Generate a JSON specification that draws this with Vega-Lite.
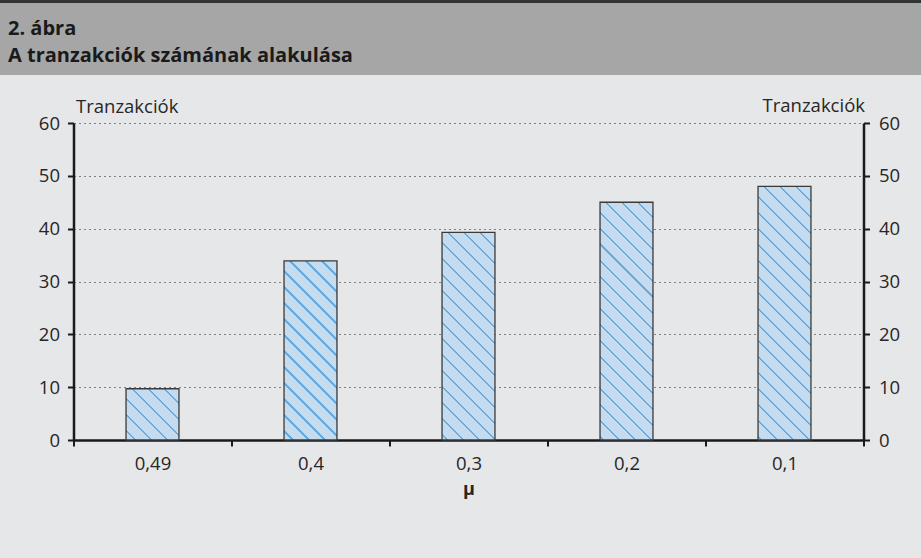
{
  "$schema": "https://vega.github.io/schema/vega-lite/v6.json",
  "autosize": {"type": "none"},
  "padding": {"left": 0, "top": 0, "right": 921, "bottom": 558},
  "background": "#e6e7e8",
  "config": {"view": {"stroke": null}, "font": "Open Sans"},
  "bounds": "flush",
  "center": true,
  "spacing": 48,
  "vconcat": [
    {
      "width": 937,
      "height": 75,
      "view": {"fill": "#a6a6a6", "stroke": "#333333", "strokeWidth": 6, "strokeDash": [937, 100000]},
      "title": {
        "text": ["2. ábra", "A tranzakciók számának alakulása"],
        "anchor": "start",
        "frame": "group",
        "orient": "top",
        "offset": -82,
        "dx": 8,
        "baseline": "alphabetic",
        "font": "Open Sans",
        "fontSize": 20,
        "fontWeight": "bold",
        "lineHeight": 27,
        "color": "#1a1a1a"
      },
      "data": {"values": []},
      "mark": "point"
    },
    {
      "width": 790,
      "height": 317,
      "data": {
        "values": [
          {"mu": "0,49", "tx": 9.7},
          {"mu": "0,4", "tx": 33.9},
          {"mu": "0,3", "tx": 39.3},
          {"mu": "0,2", "tx": 45.0},
          {"mu": "0,1", "tx": 48.0}
        ]
      },
      "layer": [
        {
          "mark": {"type": "bar", "width": {"band": 0.335}, "stroke": "#3a3a3a", "strokeWidth": 1.3},
          "encoding": {
            "x": {
              "field": "mu", "type": "nominal", "sort": null,
              "scale": {"paddingInner": 0, "paddingOuter": 0},
              "axis": {
                "orient": "bottom", "domainColor": "#1a1a1a", "domainWidth": 2.5,
                "tickBand": "extent", "tickColor": "#1a1a1a", "tickSize": 6, "tickWidth": 2,
                "labelAngle": 0, "labelFont": "Open Sans", "labelFontSize": 18.5, "labelColor": "#262626", "labelPadding": 8,
                "title": "μ", "titleFont": "Open Sans", "titleFontSize": 18, "titleFontWeight": "bold", "titleColor": "#262626", "titlePadding": 8
              }
            },
            "y": {
              "field": "tx", "type": "quantitative",
              "scale": {"domain": [0, 60]},
              "axis": {
                "orient": "left", "values": [0, 10, 20, 30, 40, 50, 60],
                "domainColor": "#1a1a1a", "domainWidth": 2.5,
                "tickColor": "#1a1a1a", "tickSize": 6, "tickWidth": 2,
                "labelFont": "Open Sans", "labelFontSize": 18.5, "labelColor": "#262626", "labelPadding": 8,
                "grid": true, "gridColor": "#808080", "gridDash": [2, 3], "gridWidth": 1,
                "title": "Tranzakciók", "titleAngle": 0, "titleAlign": "left", "titleBaseline": "alphabetic",
                "titleX": 2, "titleY": -11, "titleFont": "Open Sans", "titleFontSize": 18.5, "titleFontWeight": "normal", "titleColor": "#262626"
              }
            },
            "fill": {
              "condition": [
                {"test": "datum.mu === '0,49'", "value": {"gradient": "linear", "x1": 0, "y1": 1, "x2": 1.0159, "y2": 0.01636, "stops": [
                  {"offset": 0, "color": "#c5dcf0"},
                  {"offset": 0.0773, "color": "#c5dcf0"}, {"offset": 0.0773, "color": "#6aaadc"}, {"offset": 0.1003, "color": "#6aaadc"}, {"offset": 0.1003, "color": "#c5dcf0"},
                  {"offset": 0.2309, "color": "#c5dcf0"}, {"offset": 0.2309, "color": "#6aaadc"}, {"offset": 0.2539, "color": "#6aaadc"}, {"offset": 0.2539, "color": "#c5dcf0"},
                  {"offset": 0.3845, "color": "#c5dcf0"}, {"offset": 0.3845, "color": "#6aaadc"}, {"offset": 0.4075, "color": "#6aaadc"}, {"offset": 0.4075, "color": "#c5dcf0"},
                  {"offset": 0.5380, "color": "#c5dcf0"}, {"offset": 0.5380, "color": "#6aaadc"}, {"offset": 0.5610, "color": "#6aaadc"}, {"offset": 0.5610, "color": "#c5dcf0"},
                  {"offset": 0.6916, "color": "#c5dcf0"}, {"offset": 0.6916, "color": "#6aaadc"}, {"offset": 0.7146, "color": "#6aaadc"}, {"offset": 0.7146, "color": "#c5dcf0"},
                  {"offset": 0.8452, "color": "#c5dcf0"}, {"offset": 0.8452, "color": "#6aaadc"}, {"offset": 0.8682, "color": "#6aaadc"}, {"offset": 0.8682, "color": "#c5dcf0"},
                  {"offset": 1, "color": "#c5dcf0"}
                ]}},
                {"test": "datum.mu === '0,4'", "value": {"gradient": "linear", "x1": 0, "y1": 1, "x2": 0.35212, "y2": -0.19146, "stops": [
                  {"offset": 0, "color": "#c5dcf0"},
                  {"offset": 0.0341, "color": "#c5dcf0"}, {"offset": 0.0341, "color": "#6aaadc"}, {"offset": 0.0444, "color": "#6aaadc"}, {"offset": 0.0444, "color": "#c5dcf0"},
                  {"offset": 0.1030, "color": "#c5dcf0"}, {"offset": 0.1030, "color": "#6aaadc"}, {"offset": 0.1134, "color": "#6aaadc"}, {"offset": 0.1134, "color": "#c5dcf0"},
                  {"offset": 0.1720, "color": "#c5dcf0"}, {"offset": 0.1720, "color": "#6aaadc"}, {"offset": 0.1823, "color": "#6aaadc"}, {"offset": 0.1823, "color": "#c5dcf0"},
                  {"offset": 0.2409, "color": "#c5dcf0"}, {"offset": 0.2409, "color": "#6aaadc"}, {"offset": 0.2513, "color": "#6aaadc"}, {"offset": 0.2513, "color": "#c5dcf0"},
                  {"offset": 0.3099, "color": "#c5dcf0"}, {"offset": 0.3099, "color": "#6aaadc"}, {"offset": 0.3202, "color": "#6aaadc"}, {"offset": 0.3202, "color": "#c5dcf0"},
                  {"offset": 0.3788, "color": "#c5dcf0"}, {"offset": 0.3788, "color": "#6aaadc"}, {"offset": 0.3892, "color": "#6aaadc"}, {"offset": 0.3892, "color": "#c5dcf0"},
                  {"offset": 0.4478, "color": "#c5dcf0"}, {"offset": 0.4478, "color": "#6aaadc"}, {"offset": 0.4581, "color": "#6aaadc"}, {"offset": 0.4581, "color": "#c5dcf0"},
                  {"offset": 0.5167, "color": "#c5dcf0"}, {"offset": 0.5167, "color": "#6aaadc"}, {"offset": 0.5271, "color": "#6aaadc"}, {"offset": 0.5271, "color": "#c5dcf0"},
                  {"offset": 0.5857, "color": "#c5dcf0"}, {"offset": 0.5857, "color": "#6aaadc"}, {"offset": 0.5960, "color": "#6aaadc"}, {"offset": 0.5960, "color": "#c5dcf0"},
                  {"offset": 0.6547, "color": "#c5dcf0"}, {"offset": 0.6547, "color": "#6aaadc"}, {"offset": 0.6650, "color": "#6aaadc"}, {"offset": 0.6650, "color": "#c5dcf0"},
                  {"offset": 0.7236, "color": "#c5dcf0"}, {"offset": 0.7236, "color": "#6aaadc"}, {"offset": 0.7340, "color": "#6aaadc"}, {"offset": 0.7340, "color": "#c5dcf0"},
                  {"offset": 0.7926, "color": "#c5dcf0"}, {"offset": 0.7926, "color": "#6aaadc"}, {"offset": 0.8029, "color": "#6aaadc"}, {"offset": 0.8029, "color": "#c5dcf0"},
                  {"offset": 0.8615, "color": "#c5dcf0"}, {"offset": 0.8615, "color": "#6aaadc"}, {"offset": 0.8719, "color": "#6aaadc"}, {"offset": 0.8719, "color": "#c5dcf0"},
                  {"offset": 0.9305, "color": "#c5dcf0"}, {"offset": 0.9305, "color": "#6aaadc"}, {"offset": 0.9408, "color": "#6aaadc"}, {"offset": 0.9408, "color": "#c5dcf0"},
                  {"offset": 1, "color": "#c5dcf0"}
                ]}},
                {"test": "datum.mu === '0,3'", "value": {"gradient": "linear", "x1": 0, "y1": 1, "x2": 0.30039, "y2": -0.17834, "stops": [
                  {"offset": 0, "color": "#c5dcf0"},
                  {"offset": 0.0170, "color": "#c5dcf0"}, {"offset": 0.0170, "color": "#6aaadc"}, {"offset": 0.0262, "color": "#6aaadc"}, {"offset": 0.0262, "color": "#c5dcf0"},
                  {"offset": 0.0784, "color": "#c5dcf0"}, {"offset": 0.0784, "color": "#6aaadc"}, {"offset": 0.0876, "color": "#6aaadc"}, {"offset": 0.0876, "color": "#c5dcf0"},
                  {"offset": 0.1398, "color": "#c5dcf0"}, {"offset": 0.1398, "color": "#6aaadc"}, {"offset": 0.1490, "color": "#6aaadc"}, {"offset": 0.1490, "color": "#c5dcf0"},
                  {"offset": 0.2012, "color": "#c5dcf0"}, {"offset": 0.2012, "color": "#6aaadc"}, {"offset": 0.2104, "color": "#6aaadc"}, {"offset": 0.2104, "color": "#c5dcf0"},
                  {"offset": 0.2626, "color": "#c5dcf0"}, {"offset": 0.2626, "color": "#6aaadc"}, {"offset": 0.2718, "color": "#6aaadc"}, {"offset": 0.2718, "color": "#c5dcf0"},
                  {"offset": 0.3240, "color": "#c5dcf0"}, {"offset": 0.3240, "color": "#6aaadc"}, {"offset": 0.3332, "color": "#6aaadc"}, {"offset": 0.3332, "color": "#c5dcf0"},
                  {"offset": 0.3854, "color": "#c5dcf0"}, {"offset": 0.3854, "color": "#6aaadc"}, {"offset": 0.3947, "color": "#6aaadc"}, {"offset": 0.3947, "color": "#c5dcf0"},
                  {"offset": 0.4469, "color": "#c5dcf0"}, {"offset": 0.4469, "color": "#6aaadc"}, {"offset": 0.4561, "color": "#6aaadc"}, {"offset": 0.4561, "color": "#c5dcf0"},
                  {"offset": 0.5083, "color": "#c5dcf0"}, {"offset": 0.5083, "color": "#6aaadc"}, {"offset": 0.5175, "color": "#6aaadc"}, {"offset": 0.5175, "color": "#c5dcf0"},
                  {"offset": 0.5697, "color": "#c5dcf0"}, {"offset": 0.5697, "color": "#6aaadc"}, {"offset": 0.5789, "color": "#6aaadc"}, {"offset": 0.5789, "color": "#c5dcf0"},
                  {"offset": 0.6311, "color": "#c5dcf0"}, {"offset": 0.6311, "color": "#6aaadc"}, {"offset": 0.6403, "color": "#6aaadc"}, {"offset": 0.6403, "color": "#c5dcf0"},
                  {"offset": 0.6925, "color": "#c5dcf0"}, {"offset": 0.6925, "color": "#6aaadc"}, {"offset": 0.7017, "color": "#6aaadc"}, {"offset": 0.7017, "color": "#c5dcf0"},
                  {"offset": 0.7539, "color": "#c5dcf0"}, {"offset": 0.7539, "color": "#6aaadc"}, {"offset": 0.7631, "color": "#6aaadc"}, {"offset": 0.7631, "color": "#c5dcf0"},
                  {"offset": 0.8153, "color": "#c5dcf0"}, {"offset": 0.8153, "color": "#6aaadc"}, {"offset": 0.8245, "color": "#6aaadc"}, {"offset": 0.8245, "color": "#c5dcf0"},
                  {"offset": 0.8767, "color": "#c5dcf0"}, {"offset": 0.8767, "color": "#6aaadc"}, {"offset": 0.8859, "color": "#6aaadc"}, {"offset": 0.8859, "color": "#c5dcf0"},
                  {"offset": 0.9381, "color": "#c5dcf0"}, {"offset": 0.9381, "color": "#6aaadc"}, {"offset": 0.9473, "color": "#6aaadc"}, {"offset": 0.9473, "color": "#c5dcf0"},
                  {"offset": 1, "color": "#c5dcf0"}
                ]}},
                {"test": "datum.mu === '0,2'", "value": {"gradient": "linear", "x1": 0, "y1": 1, "x2": 0.25934, "y2": -0.16490, "stops": [
                  {"offset": 0, "color": "#c5dcf0"},
                  {"offset": 0.0088, "color": "#c5dcf0"}, {"offset": 0.0088, "color": "#6aaadc"}, {"offset": 0.0170, "color": "#6aaadc"}, {"offset": 0.0170, "color": "#c5dcf0"},
                  {"offset": 0.0638, "color": "#c5dcf0"}, {"offset": 0.0638, "color": "#6aaadc"}, {"offset": 0.0721, "color": "#6aaadc"}, {"offset": 0.0721, "color": "#c5dcf0"},
                  {"offset": 0.1189, "color": "#c5dcf0"}, {"offset": 0.1189, "color": "#6aaadc"}, {"offset": 0.1271, "color": "#6aaadc"}, {"offset": 0.1271, "color": "#c5dcf0"},
                  {"offset": 0.1739, "color": "#c5dcf0"}, {"offset": 0.1739, "color": "#6aaadc"}, {"offset": 0.1822, "color": "#6aaadc"}, {"offset": 0.1822, "color": "#c5dcf0"},
                  {"offset": 0.2289, "color": "#c5dcf0"}, {"offset": 0.2289, "color": "#6aaadc"}, {"offset": 0.2372, "color": "#6aaadc"}, {"offset": 0.2372, "color": "#c5dcf0"},
                  {"offset": 0.2840, "color": "#c5dcf0"}, {"offset": 0.2840, "color": "#6aaadc"}, {"offset": 0.2922, "color": "#6aaadc"}, {"offset": 0.2922, "color": "#c5dcf0"},
                  {"offset": 0.3390, "color": "#c5dcf0"}, {"offset": 0.3390, "color": "#6aaadc"}, {"offset": 0.3473, "color": "#6aaadc"}, {"offset": 0.3473, "color": "#c5dcf0"},
                  {"offset": 0.3941, "color": "#c5dcf0"}, {"offset": 0.3941, "color": "#6aaadc"}, {"offset": 0.4023, "color": "#6aaadc"}, {"offset": 0.4023, "color": "#c5dcf0"},
                  {"offset": 0.4491, "color": "#c5dcf0"}, {"offset": 0.4491, "color": "#6aaadc"}, {"offset": 0.4574, "color": "#6aaadc"}, {"offset": 0.4574, "color": "#c5dcf0"},
                  {"offset": 0.5042, "color": "#c5dcf0"}, {"offset": 0.5042, "color": "#6aaadc"}, {"offset": 0.5124, "color": "#6aaadc"}, {"offset": 0.5124, "color": "#c5dcf0"},
                  {"offset": 0.5592, "color": "#c5dcf0"}, {"offset": 0.5592, "color": "#6aaadc"}, {"offset": 0.5675, "color": "#6aaadc"}, {"offset": 0.5675, "color": "#c5dcf0"},
                  {"offset": 0.6143, "color": "#c5dcf0"}, {"offset": 0.6143, "color": "#6aaadc"}, {"offset": 0.6225, "color": "#6aaadc"}, {"offset": 0.6225, "color": "#c5dcf0"},
                  {"offset": 0.6693, "color": "#c5dcf0"}, {"offset": 0.6693, "color": "#6aaadc"}, {"offset": 0.6776, "color": "#6aaadc"}, {"offset": 0.6776, "color": "#c5dcf0"},
                  {"offset": 0.7243, "color": "#c5dcf0"}, {"offset": 0.7243, "color": "#6aaadc"}, {"offset": 0.7326, "color": "#6aaadc"}, {"offset": 0.7326, "color": "#c5dcf0"},
                  {"offset": 0.7794, "color": "#c5dcf0"}, {"offset": 0.7794, "color": "#6aaadc"}, {"offset": 0.7876, "color": "#6aaadc"}, {"offset": 0.7876, "color": "#c5dcf0"},
                  {"offset": 0.8344, "color": "#c5dcf0"}, {"offset": 0.8344, "color": "#6aaadc"}, {"offset": 0.8427, "color": "#6aaadc"}, {"offset": 0.8427, "color": "#c5dcf0"},
                  {"offset": 0.8895, "color": "#c5dcf0"}, {"offset": 0.8895, "color": "#6aaadc"}, {"offset": 0.8977, "color": "#6aaadc"}, {"offset": 0.8977, "color": "#c5dcf0"},
                  {"offset": 0.9445, "color": "#c5dcf0"}, {"offset": 0.9445, "color": "#6aaadc"}, {"offset": 0.9528, "color": "#6aaadc"}, {"offset": 0.9528, "color": "#c5dcf0"},
                  {"offset": 1, "color": "#c5dcf0"}
                ]}},
                {"test": "datum.mu === '0,1'", "value": {"gradient": "linear", "x1": 0, "y1": 1, "x2": 0.24175, "y2": -0.15827, "stops": [
                  {"offset": 0, "color": "#c5dcf0"},
                  {"offset": 0.0078, "color": "#c5dcf0"}, {"offset": 0.0078, "color": "#6aaadc"}, {"offset": 0.0157, "color": "#6aaadc"}, {"offset": 0.0157, "color": "#c5dcf0"},
                  {"offset": 0.0600, "color": "#c5dcf0"}, {"offset": 0.0600, "color": "#6aaadc"}, {"offset": 0.0679, "color": "#6aaadc"}, {"offset": 0.0679, "color": "#c5dcf0"},
                  {"offset": 0.1122, "color": "#c5dcf0"}, {"offset": 0.1122, "color": "#6aaadc"}, {"offset": 0.1201, "color": "#6aaadc"}, {"offset": 0.1201, "color": "#c5dcf0"},
                  {"offset": 0.1644, "color": "#c5dcf0"}, {"offset": 0.1644, "color": "#6aaadc"}, {"offset": 0.1723, "color": "#6aaadc"}, {"offset": 0.1723, "color": "#c5dcf0"},
                  {"offset": 0.2166, "color": "#c5dcf0"}, {"offset": 0.2166, "color": "#6aaadc"}, {"offset": 0.2245, "color": "#6aaadc"}, {"offset": 0.2245, "color": "#c5dcf0"},
                  {"offset": 0.2688, "color": "#c5dcf0"}, {"offset": 0.2688, "color": "#6aaadc"}, {"offset": 0.2766, "color": "#6aaadc"}, {"offset": 0.2766, "color": "#c5dcf0"},
                  {"offset": 0.3210, "color": "#c5dcf0"}, {"offset": 0.3210, "color": "#6aaadc"}, {"offset": 0.3288, "color": "#6aaadc"}, {"offset": 0.3288, "color": "#c5dcf0"},
                  {"offset": 0.3732, "color": "#c5dcf0"}, {"offset": 0.3732, "color": "#6aaadc"}, {"offset": 0.3810, "color": "#6aaadc"}, {"offset": 0.3810, "color": "#c5dcf0"},
                  {"offset": 0.4254, "color": "#c5dcf0"}, {"offset": 0.4254, "color": "#6aaadc"}, {"offset": 0.4332, "color": "#6aaadc"}, {"offset": 0.4332, "color": "#c5dcf0"},
                  {"offset": 0.4776, "color": "#c5dcf0"}, {"offset": 0.4776, "color": "#6aaadc"}, {"offset": 0.4854, "color": "#6aaadc"}, {"offset": 0.4854, "color": "#c5dcf0"},
                  {"offset": 0.5298, "color": "#c5dcf0"}, {"offset": 0.5298, "color": "#6aaadc"}, {"offset": 0.5376, "color": "#6aaadc"}, {"offset": 0.5376, "color": "#c5dcf0"},
                  {"offset": 0.5820, "color": "#c5dcf0"}, {"offset": 0.5820, "color": "#6aaadc"}, {"offset": 0.5898, "color": "#6aaadc"}, {"offset": 0.5898, "color": "#c5dcf0"},
                  {"offset": 0.6342, "color": "#c5dcf0"}, {"offset": 0.6342, "color": "#6aaadc"}, {"offset": 0.6420, "color": "#6aaadc"}, {"offset": 0.6420, "color": "#c5dcf0"},
                  {"offset": 0.6864, "color": "#c5dcf0"}, {"offset": 0.6864, "color": "#6aaadc"}, {"offset": 0.6942, "color": "#6aaadc"}, {"offset": 0.6942, "color": "#c5dcf0"},
                  {"offset": 0.7386, "color": "#c5dcf0"}, {"offset": 0.7386, "color": "#6aaadc"}, {"offset": 0.7464, "color": "#6aaadc"}, {"offset": 0.7464, "color": "#c5dcf0"},
                  {"offset": 0.7908, "color": "#c5dcf0"}, {"offset": 0.7908, "color": "#6aaadc"}, {"offset": 0.7986, "color": "#6aaadc"}, {"offset": 0.7986, "color": "#c5dcf0"},
                  {"offset": 0.8430, "color": "#c5dcf0"}, {"offset": 0.8430, "color": "#6aaadc"}, {"offset": 0.8508, "color": "#6aaadc"}, {"offset": 0.8508, "color": "#c5dcf0"},
                  {"offset": 0.8952, "color": "#c5dcf0"}, {"offset": 0.8952, "color": "#6aaadc"}, {"offset": 0.9030, "color": "#6aaadc"}, {"offset": 0.9030, "color": "#c5dcf0"},
                  {"offset": 0.9474, "color": "#c5dcf0"}, {"offset": 0.9474, "color": "#6aaadc"}, {"offset": 0.9552, "color": "#6aaadc"}, {"offset": 0.9552, "color": "#c5dcf0"},
                  {"offset": 1, "color": "#c5dcf0"}
                ]}}
              ],
              "value": "#b9d5ee"
            }
          }
        },
        {
          "mark": {"type": "bar", "width": {"band": 0.335}, "opacity": 0},
          "encoding": {
            "x": {"field": "mu", "type": "nominal", "sort": null},
            "y": {
              "field": "tx", "type": "quantitative",
              "axis": {
                "orient": "right", "values": [0, 10, 20, 30, 40, 50, 60],
                "domainColor": "#1a1a1a", "domainWidth": 2.5,
                "tickColor": "#1a1a1a", "tickSize": 6, "tickWidth": 2,
                "labelFont": "Open Sans", "labelFontSize": 18.5, "labelColor": "#262626", "labelPadding": 9,
                "grid": false,
                "title": "Tranzakciók", "titleAngle": 0, "titleAlign": "right", "titleBaseline": "alphabetic",
                "titleX": 1, "titleY": -12, "titleFont": "Open Sans", "titleFontSize": 18.5, "titleFontWeight": "normal", "titleColor": "#262626"
              }
            }
          }
        }
      ],
      "resolve": {"axis": {"y": "independent"}}
    }
  ]
}
